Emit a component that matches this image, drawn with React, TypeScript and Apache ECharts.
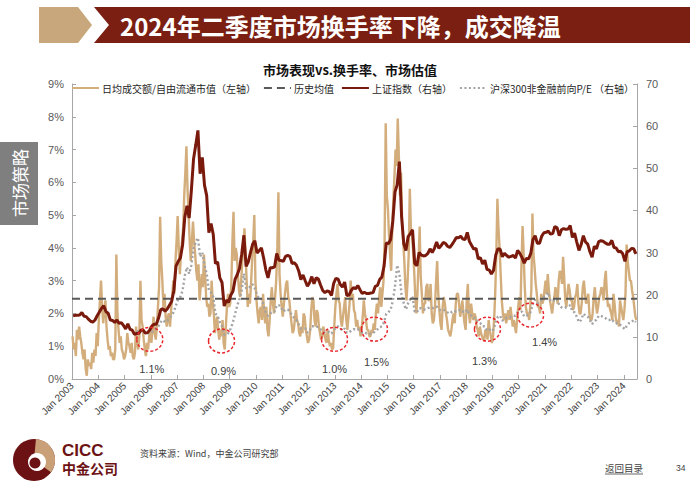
import React, { useEffect, useRef } from "react";
import * as echarts from "echarts";

// ---------------- data (Jan 2003 – Jun 2024) ----------------
const START_YEAR = 2003;

// 日均成交额/自由流通市值 (%), left axis — two readings per month (1st / 2nd half)
const TURNOVER: number[] = [
  1.3, 0.9, 1.1, 0.7, 1.5, 1.2, 1.6, 1.3, 1.1, 0.8, 0.6, 0.9, 0.3, 0.1, 0.6, 0.4, 0.5, 0.3, 0.8, 0.5, 0.9, 0.7, 1.4, 1.0, // 2003
  1.8, 2.4, 3.0, 2.2, 1.7, 2.1, 2.4, 1.6, 1.2, 0.9, 1.0, 0.7, 0.8, 0.6, 0.6, 0.9, 3.8, 2.0, 1.5, 1.1, 1.3, 0.9, 0.8, 0.6, // 2004
  0.7, 0.9, 1.4, 1.1, 1.0, 0.8, 1.1, 0.7, 0.6, 0.8, 1.6, 1.1, 0.9, 1.3, 3.0, 1.8, 1.6, 1.2, 0.9, 0.7, 1.1, 0.9, 1.3, 1.6, // 2005
  1.1, 1.5, 1.9, 1.4, 1.2, 1.6, 2.2, 2.8, 4.95, 3.6, 3.0, 2.2, 2.6, 1.9, 1.6, 1.9, 2.0, 1.6, 2.1, 2.5, 3.0, 2.6, 3.6, 4.2, // 2006
  4.97, 4.0, 3.2, 3.8, 4.2, 4.6, 5.6, 6.3, 7.1, 5.8, 5.0, 4.2, 3.6, 4.2, 4.8, 4.2, 3.8, 3.3, 3.0, 3.5, 2.4, 2.8, 3.2, 2.8, // 2007
  3.8, 3.2, 2.5, 2.2, 2.3, 1.9, 2.0, 3.0, 2.4, 2.0, 1.4, 1.7, 1.9, 1.5, 1.2, 1.5, 1.3, 1.8, 1.1, 0.9, 1.6, 2.2, 2.6, 2.2, // 2008
  2.3, 2.9, 4.2, 5.1, 3.6, 4.0, 3.8, 3.2, 2.7, 2.5, 3.0, 3.6, 4.0, 4.6, 3.8, 3.0, 2.2, 2.6, 2.3, 2.9, 3.6, 4.2, 5.0, 3.0, // 2009
  2.4, 2.0, 1.7, 2.1, 2.2, 1.8, 2.6, 2.0, 1.7, 2.2, 1.5, 1.3, 1.8, 2.4, 2.8, 2.3, 2.0, 2.5, 3.0, 4.0, 5.7, 3.2, 2.6, 2.2, // 2010
  1.9, 2.3, 2.6, 2.9, 3.0, 2.5, 2.4, 2.0, 1.7, 1.4, 1.5, 1.8, 2.1, 1.8, 1.7, 1.4, 1.3, 1.6, 1.4, 2.0, 1.9, 1.5, 1.3, 1.1, // 2011
  1.2, 1.5, 2.1, 2.5, 2.4, 1.8, 1.6, 2.1, 2.0, 1.6, 1.4, 1.2, 1.3, 1.6, 1.4, 1.2, 1.1, 1.5, 1.2, 1.0, 1.1, 0.9, 0.95, 1.6, // 2012
  2.2, 2.6, 2.9, 2.4, 2.3, 1.8, 1.6, 1.9, 2.2, 2.5, 1.8, 1.5, 1.9, 2.3, 3.0, 2.4, 2.6, 2.1, 2.0, 1.6, 1.8, 1.5, 1.6, 1.3, // 2013
  1.5, 1.9, 2.4, 2.0, 1.8, 1.5, 1.5, 1.3, 1.3, 1.5, 1.4, 1.7, 1.5, 2.0, 2.3, 2.0, 2.5, 2.8, 2.2, 2.6, 3.0, 4.2, 7.8, 5.6, // 2014
  5.2, 4.4, 3.8, 3.3, 4.6, 5.5, 6.2, 7.0, 6.5, 7.95, 6.8, 5.6, 6.3, 4.8, 4.2, 3.6, 2.8, 2.4, 3.0, 3.8, 5.8, 4.6, 4.5, 3.9, // 2015
  3.3, 2.5, 2.0, 2.6, 3.6, 4.65, 3.1, 2.6, 2.0, 2.3, 2.3, 2.8, 2.9, 2.4, 2.4, 2.9, 2.0, 1.7, 1.8, 2.2, 3.0, 3.6, 2.6, 2.1, // 2016
  1.7, 1.5, 2.2, 2.5, 2.3, 2.0, 1.8, 1.5, 1.4, 1.3, 1.5, 1.8, 2.0, 1.7, 2.3, 2.6, 2.6, 2.3, 1.9, 2.1, 2.4, 2.0, 1.7, 1.5, // 2017
  2.4, 2.9, 2.0, 1.7, 2.3, 2.0, 1.8, 2.0, 1.9, 1.6, 1.5, 1.3, 1.6, 1.4, 1.3, 1.2, 1.2, 1.5, 1.4, 1.2, 1.8, 1.5, 1.3, 1.1, // 2018
  1.3, 1.8, 2.6, 3.8, 5.5, 4.6, 4.0, 3.2, 2.4, 2.0, 1.8, 2.0, 1.7, 1.9, 2.1, 1.8, 2.2, 1.9, 1.6, 1.8, 1.6, 1.4, 1.8, 2.2, // 2019
  2.5, 2.1, 3.5, 4.67, 3.8, 2.8, 2.2, 2.0, 2.0, 1.8, 2.2, 2.7, 5.05, 3.8, 3.4, 2.9, 2.6, 2.2, 2.2, 2.0, 2.6, 2.3, 2.4, 2.7, // 2020
  3.0, 2.6, 3.2, 2.7, 2.4, 2.2, 2.0, 2.3, 2.5, 2.8, 2.6, 2.3, 3.0, 3.3, 3.2, 2.9, 3.73, 3.1, 2.4, 2.2, 2.6, 2.9, 2.7, 2.4, // 2021
  2.4, 2.1, 2.2, 2.5, 2.6, 2.9, 2.3, 2.0, 2.0, 2.3, 2.8, 3.0, 2.6, 2.3, 2.4, 2.6, 2.0, 1.8, 1.8, 2.0, 2.5, 2.8, 2.3, 2.0, // 2022
  2.2, 2.5, 2.6, 2.8, 2.7, 2.4, 3.0, 3.3, 2.6, 2.2, 2.3, 2.1, 2.0, 1.8, 2.6, 2.3, 1.9, 1.7, 1.8, 1.6, 2.4, 2.2, 2.0, 1.8, // 2023
  2.1, 2.6, 4.1, 3.6, 3.3, 3.0, 3.0, 2.7, 2.5, 2.2, 1.9, 1.8, // 2024 H1
];

// 上证指数 (/100), right axis — monthly
const SSE_INDEX: number[] = [
  15.0, 15.1, 15.1, 15.2, 15.8, 14.9, 14.8, 14.2, 13.7, 13.5, 14.0, 15.0, // 2003
  15.9, 16.8, 17.4, 16.0, 15.6, 14.0, 13.9, 13.4, 14.0, 13.2, 13.4, 12.7, // 2004
  11.9, 13.1, 11.8, 11.6, 10.6, 10.8, 10.8, 11.6, 11.6, 10.9, 11.0, 11.6, // 2005
  12.6, 13.0, 13.0, 14.4, 16.4, 16.7, 16.1, 16.6, 17.5, 18.4, 21.0, 26.8, // 2006
  27.9, 28.8, 31.8, 38.4, 41.1, 38.2, 44.7, 52.2, 55.5, 59.0, 48.7, 52.6, // 2007
  46.0, 43.5, 34.7, 36.9, 34.3, 27.4, 27.8, 24.0, 22.9, 17.3, 18.7, 18.2, // 2008
  19.9, 20.8, 23.7, 24.8, 26.3, 29.6, 34.1, 26.7, 27.8, 30.0, 32.0, 32.8, // 2009
  29.9, 30.5, 31.1, 28.7, 25.9, 24.0, 26.4, 26.4, 26.6, 29.8, 28.2, 28.1, // 2010
  27.9, 29.1, 29.3, 29.1, 27.4, 27.6, 27.0, 25.7, 23.6, 24.7, 23.3, 22.0, // 2011
  22.9, 24.3, 22.6, 24.0, 23.7, 22.3, 21.0, 20.5, 20.9, 20.7, 19.8, 22.7, // 2012
  23.9, 23.7, 22.4, 21.8, 23.0, 19.8, 19.9, 21.0, 21.7, 21.4, 22.2, 21.2, // 2013
  20.3, 20.6, 20.3, 20.3, 20.4, 20.5, 22.0, 22.2, 23.6, 24.2, 26.8, 32.3, // 2014
  32.1, 33.1, 37.5, 44.4, 46.1, 51.6, 38.5, 32.1, 30.5, 33.8, 34.5, 35.4, // 2015
  27.4, 26.9, 30.0, 29.4, 29.2, 29.3, 29.8, 30.9, 30.0, 31.0, 32.5, 31.0, // 2016
  31.6, 32.4, 32.2, 31.5, 31.2, 31.9, 32.7, 33.6, 33.5, 33.9, 33.2, 33.1, // 2017
  34.8, 32.6, 31.7, 30.8, 31.0, 28.5, 28.8, 27.3, 28.2, 26.0, 25.9, 24.9, // 2018
  25.8, 29.4, 30.9, 30.8, 29.0, 29.8, 29.3, 28.9, 29.1, 29.3, 28.7, 30.5, // 2019
  29.8, 28.8, 27.5, 28.6, 28.5, 29.8, 33.1, 34.0, 32.2, 32.2, 33.9, 34.7, // 2020
  34.8, 35.1, 34.4, 34.5, 36.2, 35.9, 34.0, 35.4, 35.7, 35.5, 35.6, 36.4, // 2021
  33.6, 34.6, 32.5, 30.5, 31.9, 34.0, 32.5, 32.0, 30.2, 28.9, 31.5, 30.9, // 2022
  32.6, 32.8, 32.7, 32.3, 32.0, 32.0, 32.9, 31.2, 31.1, 30.2, 30.3, 29.7, // 2023
  27.9, 30.2, 30.4, 31.0, 30.9, 29.7, // 2024 H1
];

// 沪深300非金融前向P/E, right axis — monthly, starts Jun 2005 (month index 29)
const PE_START_INDEX = 29;
const PE_FWD: number[] = [
  11.5, 11.0, 11.5, 11.2, 10.8, 10.8, 11.2, // 2005 Jun-Dec
  11.2, 11.8, 12.0, 12.5, 13.5, 14.0, 13.5, 13.8, 14.5, 15.0, 16.0, 17.5, // 2006
  19.0, 19.5, 21.0, 24.5, 26.5, 25.0, 27.0, 31.0, 32.5, 33.5, 29.0, 30.0, // 2007
  27.0, 25.0, 21.0, 20.5, 19.5, 15.5, 15.0, 13.5, 12.5, 10.5, 10.5, 11.0, // 2008
  12.0, 13.5, 15.5, 17.5, 19.0, 21.0, 25.0, 21.5, 21.5, 22.0, 22.5, 21.5, // 2009
  20.0, 19.0, 19.0, 17.5, 15.5, 15.0, 15.5, 16.0, 16.0, 17.5, 17.5, 17.0, // 2010
  16.0, 16.5, 16.5, 16.0, 15.0, 14.5, 14.0, 13.0, 12.0, 12.0, 12.0, 11.0, // 2011
  11.5, 12.5, 12.5, 12.5, 12.3, 11.8, 11.3, 11.0, 11.0, 11.2, 10.8, 11.5, // 2012
  12.3, 12.5, 12.0, 11.5, 12.0, 11.0, 11.0, 11.5, 11.8, 11.8, 11.8, 11.5, // 2013
  11.0, 11.2, 10.8, 10.8, 10.7, 10.8, 11.5, 11.8, 12.3, 12.5, 13.5, 15.5, // 2014
  15.8, 16.5, 18.5, 22.0, 27.0, 25.0, 20.0, 18.0, 16.5, 18.0, 19.0, 19.5, // 2015
  16.0, 15.8, 16.8, 16.8, 16.5, 16.5, 16.8, 17.0, 16.8, 17.0, 17.2, 16.5, // 2016
  16.3, 16.5, 16.2, 15.8, 15.5, 16.0, 16.2, 16.0, 16.2, 16.5, 16.0, 15.8, // 2017
  16.5, 15.2, 15.0, 14.5, 14.5, 13.5, 13.2, 12.5, 12.5, 11.5, 11.8, 11.3, // 2018
  11.8, 13.5, 14.8, 15.0, 13.8, 14.3, 14.5, 14.5, 14.8, 15.0, 15.0, 15.8, // 2019
  15.8, 16.0, 14.8, 15.0, 15.3, 16.0, 18.0, 18.8, 18.0, 18.3, 18.8, 19.5, // 2020
  20.0, 20.5, 18.5, 18.5, 18.8, 19.0, 17.5, 17.0, 16.8, 17.0, 17.2, 17.5, // 2021
  16.0, 15.8, 14.8, 13.5, 14.0, 15.5, 15.0, 14.8, 14.0, 13.0, 13.8, 14.0, // 2022
  15.0, 15.0, 14.8, 14.5, 14.0, 14.0, 14.2, 13.5, 13.3, 12.8, 12.8, 12.3, // 2023
  11.8, 12.8, 13.3, 13.5, 14.0, 13.5, // 2024 H1
];

const HIST_MEAN = 2.45; // 历史均值 (%)

// turnover lows marked with red dashed circles
const LOW_YEARS = [2005.96, 2008.69, 2012.99, 2014.51, 2018.81, 2020.45];
const LOW_LEVELS = [1.21, 1.16, 1.21, 1.52, 1.52, 1.95];
const LOW_LABELS = ["1.1%", "0.9%", "1.0%", "1.5%", "1.3%", "1.4%"];

const NAMES = [
  "日均成交额/自由流通市值（左轴）",
  "历史均值",
  "上证指数（右轴）",
  "沪深300非金融前向P/E （右轴）",
];

const FONT = "'Liberation Sans', 'Noto Sans CJK SC', sans-serif";
const CJK = "'Noto Sans CJK SC', 'Liberation Sans', sans-serif";

export default function App() {
  const ref = useRef<HTMLDivElement>(null);

  useEffect(() => {
    if (!ref.current) return;
    const chart = echarts.init(ref.current, null, { renderer: "svg" });
    const monthX = (i: number) => START_YEAR + (i + 0.5) / 12;
    const halfX = (j: number) => START_YEAR + (j + 0.5) / 24;

    const turnover = TURNOVER.map((v, j) => [halfX(j), v]);
    const sse = SSE_INDEX.map((v, i) => [monthX(i), v]);
    const pe = PE_FWD.map((v, i) => [monthX(i + PE_START_INDEX), v]);
    const mean = [
      [START_YEAR, HIST_MEAN],
      [2024.5, HIST_MEAN],
    ];

    const option: any = {
      animation: false,
      textStyle: { fontFamily: FONT },
      title: {
        text: "市场表现vs.换手率、市场估值",
        left: "center",
        top: 58,
        textStyle: { fontSize: 13, fontWeight: "bold", color: "#111", fontFamily: CJK },
      },
      legend: {
        left: 71,
        top: 83,
        padding: 0,
        itemWidth: 27,
        itemHeight: 8,
        itemGap: 7,
        selectedMode: false,
        itemStyle: { opacity: 0, borderWidth: 0 },
        textStyle: { fontSize: 10, color: "#262626", fontFamily: CJK, padding: [0, 0, 0, -2] },
        data: NAMES,
      },
      grid: { left: 72, right: 63, top: 84, bottom: 111 },
      xAxis: {
        type: "value",
        min: 2003,
        max: 2024.5,
        interval: 1,
        axisLine: { show: true, lineStyle: { color: "#A6A6A6", width: 1 } },
        axisTick: { show: true, inside: true, length: 4, lineStyle: { color: "#A6A6A6" } },
        axisLabel: {
          rotate: 45,
          margin: 5,
          fontSize: 10,
          color: "#404040",
          formatter: (v: number) =>
            Math.abs(v - Math.round(v)) < 1e-6 ? "Jan " + Math.round(v) : "",
        },
        splitLine: { show: false },
      },
      yAxis: [
        {
          type: "value",
          min: 0,
          max: 9,
          interval: 1,
          axisLine: { show: true, lineStyle: { color: "#A6A6A6" } },
          axisTick: { show: true, inside: true, length: 4, lineStyle: { color: "#A6A6A6" } },
          axisLabel: { formatter: "{value}%", fontSize: 11, color: "#595959", margin: 8 },
          splitLine: { show: false },
        },
        {
          type: "value",
          min: 0,
          max: 70,
          interval: 10,
          position: "right",
          axisLine: { show: true, lineStyle: { color: "#A6A6A6" } },
          axisTick: { show: true, inside: true, length: 4, lineStyle: { color: "#A6A6A6" } },
          axisLabel: { fontSize: 11, color: "#595959", margin: 9 },
          splitLine: { show: false },
        },
      ],
      series: [
        {
          name: NAMES[0],
          type: "line",
          yAxisIndex: 0,
          data: turnover,
          symbol: "none",
          silent: true,
          z: 2,
          lineStyle: { color: "#D3AE7C", width: 2.4 },
          itemStyle: { color: "#D3AE7C" },
        },
        {
          name: NAMES[3],
          type: "line",
          yAxisIndex: 1,
          data: pe,
          symbol: "none",
          silent: true,
          z: 3,
          lineStyle: { color: "#A3A3A3", width: 2.4, type: [2, 2.5] },
          itemStyle: { color: "#A3A3A3" },
        },
        {
          name: NAMES[1],
          type: "line",
          yAxisIndex: 0,
          data: mean,
          symbol: "none",
          silent: true,
          z: 4,
          lineStyle: { color: "#595959", width: 2, type: [8, 5] },
          itemStyle: { color: "#595959" },
        },
        {
          name: NAMES[2],
          type: "line",
          yAxisIndex: 1,
          data: sse,
          symbol: "none",
          silent: true,
          z: 5,
          lineStyle: { color: "#7A1A0C", width: 3 },
          itemStyle: { color: "#7A1A0C" },
        },
      ],
    };
    chart.setOption(option);

    // annotations positioned through the chart's own scales
    const annot: any[] = [];
    const labelOffsets = [
      [2, 30],
      [2, 30],
      [0, 30],
      [2, 33],
      [-3, 32],
      [14, 27],
    ];
    LOW_YEARS.forEach((yr, k) => {
      const p = chart.convertToPixel({ xAxisIndex: 0, yAxisIndex: 0 }, [yr, LOW_LEVELS[k]]) as number[];
      annot.push({
        type: "ellipse",
        shape: { cx: p[0], cy: p[1], rx: 13, ry: 12 },
        style: { fill: "none", stroke: "#E8262B", lineWidth: 1.5, lineDash: [3, 2] },
        z: 100,
      });
      annot.push({
        type: "text",
        x: p[0] + labelOffsets[k][0],
        y: p[1] + labelOffsets[k][1],
        style: {
          text: LOW_LABELS[k],
          fill: "#404040",
          fontSize: 11,
          fontFamily: FONT,
          textAlign: "center",
          textVerticalAlign: "middle",
        },
        z: 100,
      });
    });

    const deco: any[] = [
      // header
      {
        type: "polygon",
        shape: { points: [[39, 7], [78, 7], [92, 25], [78, 43], [39, 43]] },
        style: { fill: "#C9A77C" },
      },
      {
        type: "polygon",
        shape: { points: [[94, 7], [690, 7], [690, 43], [94, 43], [109, 25]] },
        style: { fill: "#7B1F12" },
      },
      {
        type: "text",
        x: 120,
        y: 25,
        style: {
          text: "2024年二季度市场换手率下降，成交降温",
          fill: "#fff",
          fontSize: 24,
          fontWeight: "bold",
          fontFamily: CJK,
          textVerticalAlign: "middle",
        },
      },
      // side tab
      { type: "rect", shape: { x: 0, y: 142, width: 38, height: 83 }, style: { fill: "#7F7F7F" } },
      {
        type: "text",
        x: 19,
        y: 183,
        rotation: Math.PI / 2,
        style: {
          text: "市场策略",
          fill: "#fff",
          fontSize: 17,
          fontFamily: CJK,
          textAlign: "center",
          textVerticalAlign: "middle",
        },
      },
      // footer logo
      { type: "circle", shape: { cx: 34, cy: 460, r: 21 }, style: { fill: "#6D1214" } },
      {
        type: "sector",
        shape: { cx: 34, cy: 460, r: 21, r0: 0, startAngle: -Math.PI * 0.47, endAngle: Math.PI * 0.2 },
        style: { fill: "#C9A077" },
      },
      { type: "circle", shape: { cx: 37, cy: 462, r: 9 }, style: { fill: "#fff" } },
      { type: "circle", shape: { cx: 35, cy: 463, r: 5.5 }, style: { fill: "#6D1214" } },
      {
        type: "text",
        x: 62,
        y: 450,
        style: { text: "CICC", fill: "#6D1214", fontSize: 17, fontWeight: "bold", fontFamily: FONT, textVerticalAlign: "middle" },
      },
      {
        type: "text",
        x: 62,
        y: 468,
        style: { text: "中金公司", fill: "#6D1214", fontSize: 14, fontWeight: "bold", fontFamily: CJK, textVerticalAlign: "middle" },
      },
      {
        type: "text",
        x: 140,
        y: 453,
        style: { text: "资料来源：Wind，中金公司研究部", fill: "#404040", fontSize: 9, fontFamily: CJK, textVerticalAlign: "middle" },
      },
      {
        type: "text",
        x: 605,
        y: 468,
        style: { text: "返回目录", fill: "#404040", fontSize: 9.5, fontFamily: CJK, textVerticalAlign: "middle" },
      },
      { type: "line", shape: { x1: 605, y1: 474, x2: 643, y2: 474 }, style: { stroke: "#404040", lineWidth: 0.8 } },
      {
        type: "text",
        x: 676,
        y: 468,
        style: { text: "34", fill: "#404040", fontSize: 8.5, fontFamily: FONT, textVerticalAlign: "middle" },
      },
    ];

    chart.setOption({ graphic: [...deco, ...annot] });

    return () => chart.dispose();
  }, []);

  return (
    <div
      ref={ref}
      style={{ position: "fixed", left: 0, top: 0, width: 700, height: 490, background: "#fff" }}
    />
  );
}
